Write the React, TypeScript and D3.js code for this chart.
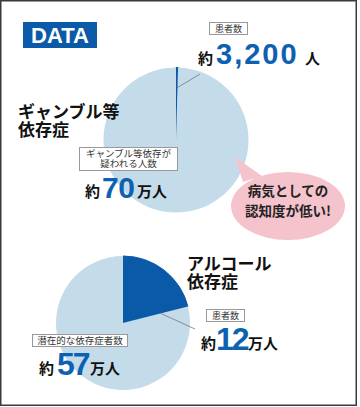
import React from 'react';
import * as d3 from 'd3';

// values
const diseaseTitles = [['ギャンブル等', '依存症'], ['アルコール', '依存症']];
const totalCaptions = [['ギャンブル等依存が', '疑われる人数'], ['潜在的な依存症者数']];
const totalValues = [700000, 570000];
const patientValues = [3200, 120000];
const totalNumText = ['70', '57'];
const patientNumText = ['3,200', '12'];
const patientUnitText = ['人', '万人'];
const bubbleLines = ['病気としての', '認知度が低い!'];

const LIGHT = '#c4dbea';
const DARK = '#0b5aa7';
const NUM = '#0c61b0';
const JP = '"Noto Sans CJK JP", "Noto Sans", sans-serif';
const LAT = '"Liberation Sans", Arial, sans-serif';

const App = () => {
  // pie geometry for the two charts
  const pies = [
    { cx: 176, cy: 140, r: 72.5 },
    { cx: 123, cy: 323, r: 67 },
  ];
  const pieGen = d3.pie<number>().sort(null).value((d) => d);
  const arcGen = d3.arc<d3.PieArcDatum<number>>().innerRadius(0);

  // leader lines: start inside the patient slice, end near the label
  const leaderEnds = [
    { r: 52, at: 'mid', x2: 200, y2: 74 },
    { r: 39, at: 'end', x2: 195, y2: 329 },
  ];

  return (
    <svg
      width={360}
      height={407}
      style={{ position: 'absolute', left: 0, top: 0, display: 'block' }}
    >
      <rect x={0} y={0} width={360} height={407} fill="#fff" />
      <rect x={0.75} y={0.75} width={355.5} height={404.5} fill="none" stroke="#3a3a3a" strokeWidth={1.5} />

      {/* DATA badge */}
      <rect x={23} y={22} width={74} height={26} fill={DARK} />
      <text x={60} y={43} textAnchor="middle" fill="#fff" fontFamily={LAT} fontWeight={700} fontSize={22}>
        DATA
      </text>

      {pies.map((p, i) => {
        const arcs = pieGen([patientValues[i], totalValues[i] - patientValues[i]]);
        const le = leaderEnds[i];
        const a = arcs[0];
        const ang = le.at === 'mid' ? (a.startAngle + a.endAngle) / 2 : a.endAngle;
        const x1 = p.cx + le.r * Math.sin(ang);
        const y1 = p.cy - le.r * Math.cos(ang);
        return (
          <g key={i}>
            <g transform={`translate(${p.cx},${p.cy})`}>
              {arcs.map((d, j) => (
                <path
                  key={j}
                  d={arcGen.outerRadius(p.r)(d) || ''}
                  fill={j === 0 ? DARK : LIGHT}
                  stroke={j === 0 ? DARK : 'none'}
                  strokeWidth={j === 0 ? 1 : 0}
                />
              ))}
            </g>
            <line x1={x1} y1={y1} x2={le.x2} y2={le.y2} stroke="#777" strokeWidth={0.8} />
          </g>
        );
      })}

      {/* speech bubble */}
      <path d="M243,182 L235,157 L262,176 Z" fill="#f5c3cc" />
      <ellipse cx={288} cy={206} rx={57} ry={34} fill="#f5c3cc" />
      {bubbleLines.map((t, i) => (
        <text key={i} x={288} y={196 + i * 19.5} textAnchor="middle" fontFamily={JP} fontWeight={700} fontSize={13.5} fill="#222">
          {t}
        </text>
      ))}

      {/* titles */}
      {diseaseTitles[0].map((t, i) => (
        <text key={i} x={18} y={118 + i * 18} fontFamily={JP} fontWeight={700} fontSize={17} fill="#111">
          {t}
        </text>
      ))}
      {diseaseTitles[1].map((t, i) => (
        <text key={i} x={187} y={270 + i * 17.5} fontFamily={JP} fontWeight={700} fontSize={17} fill="#111">
          {t}
        </text>
      ))}

      {/* top pie: patients */}
      <rect x={209.5} y={22.5} width={38} height={12} fill="#fff" stroke="#999" strokeWidth={1} />
      <text x={228.5} y={32} textAnchor="middle" fontFamily={JP} fontSize={9} fill="#333">患者数</text>
      <text x={198} y={64} fontFamily={JP} fontWeight={700} fontSize={15} fill="#111">約</text>
      <text x={216} y={64} fontFamily={LAT} fontWeight={700} fontSize={29} letterSpacing={2} fill={NUM}>
        {patientNumText[0]}
      </text>
      <text x={305} y={64} fontFamily={JP} fontWeight={700} fontSize={15} fill="#111">{patientUnitText[0]}</text>

      {/* top pie: total */}
      <rect x={79.5} y={147.5} width={98} height={23} fill="#fff" stroke="#999" strokeWidth={1} />
      {totalCaptions[0].map((t, i) => (
        <text key={i} x={128.5} y={157 + i * 10} textAnchor="middle" fontFamily={JP} fontSize={9.5} fill="#333">
          {t}
        </text>
      ))}
      <text x={85} y={197} fontFamily={JP} fontWeight={700} fontSize={15} fill="#111">約</text>
      <text x={102} y={198} fontFamily={LAT} fontWeight={700} fontSize={30} letterSpacing={-0.5} fill={NUM}>
        {totalNumText[0]}
      </text>
      <text x={137} y={197} fontFamily={JP} fontWeight={700} fontSize={15} fill="#111">万人</text>

      {/* bottom pie: patients */}
      <rect x={206.5} y={309.5} width={38} height={12} fill="#fff" stroke="#999" strokeWidth={1} />
      <text x={225.5} y={319} textAnchor="middle" fontFamily={JP} fontSize={9} fill="#333">患者数</text>
      <text x={201} y={349} fontFamily={JP} fontWeight={700} fontSize={15} fill="#111">約</text>
      <text x={216} y={350} fontFamily={LAT} fontWeight={700} fontSize={32} letterSpacing={-2} fill={NUM}>
        {patientNumText[1]}
      </text>
      <text x={248} y={349} fontFamily={JP} fontWeight={700} fontSize={15} fill="#111">{patientUnitText[1]}</text>

      {/* bottom pie: total */}
      <rect x={32.5} y={334.5} width={95} height={12} fill="#fff" stroke="#999" strokeWidth={1} />
      <text x={80} y={344} textAnchor="middle" fontFamily={JP} fontSize={9.5} fill="#333">{totalCaptions[1][0]}</text>
      <text x={39} y={374} fontFamily={JP} fontWeight={700} fontSize={15} fill="#111">約</text>
      <text x={57} y={375} fontFamily={LAT} fontWeight={700} fontSize={32} letterSpacing={-2} fill={NUM}>
        {totalNumText[1]}
      </text>
      <text x={90} y={374} fontFamily={JP} fontWeight={700} fontSize={15} fill="#111">万人</text>
    </svg>
  );
};

export default App;
